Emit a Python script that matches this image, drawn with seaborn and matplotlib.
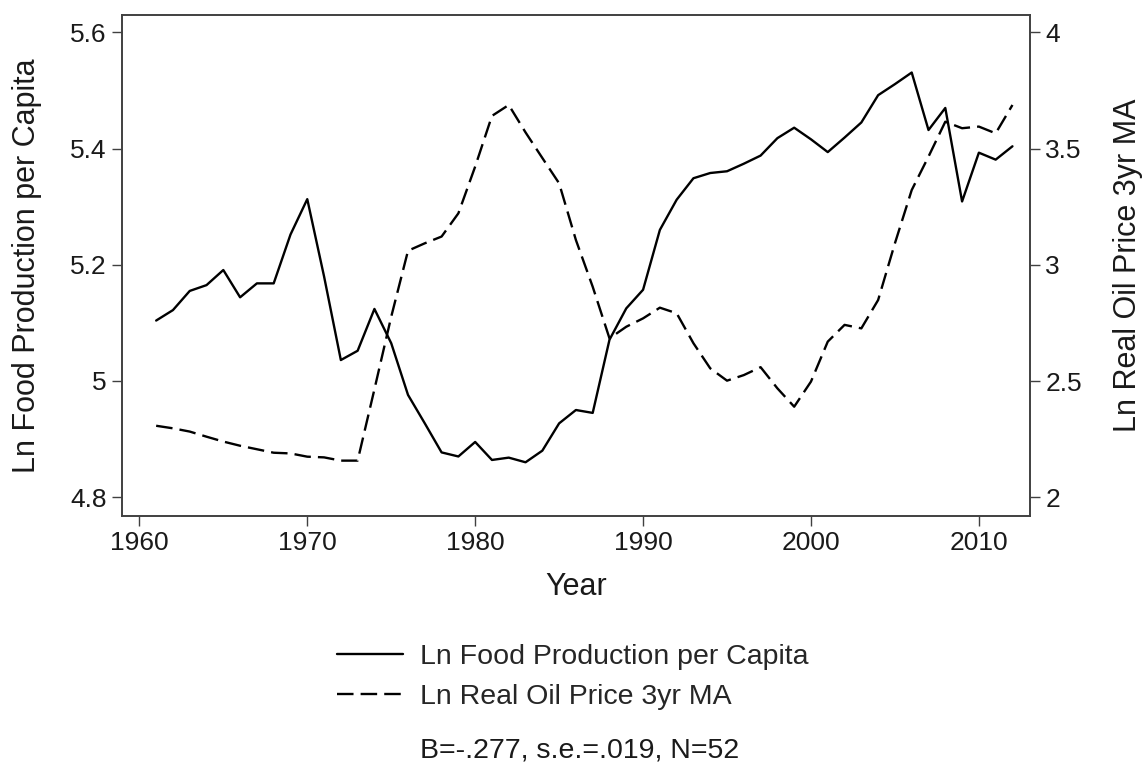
import matplotlib
matplotlib.use('Agg')
import matplotlib.pyplot as plt
import seaborn as sns
import pandas as pd

# values
years = list(range(1961, 2013))
food = [5.104, 5.122, 5.155, 5.165, 5.191, 5.144, 5.168, 5.168, 5.252, 5.313,
        5.180, 5.036, 5.052, 5.124, 5.065, 4.976, 4.927, 4.877, 4.870, 4.895,
        4.864, 4.868, 4.860, 4.880, 4.927, 4.950, 4.945, 5.071, 5.125, 5.157,
        5.260, 5.312, 5.349, 5.358, 5.361, 5.374, 5.388, 5.418, 5.436, 5.416,
        5.394, 5.419, 5.445, 5.492, 5.511, 5.531, 5.432, 5.470, 5.309, 5.393,
        5.381, 5.404]
oil = [2.308, 2.297, 2.283, 2.261, 2.240, 2.222, 2.207, 2.192, 2.189, 2.175,
       2.172, 2.158, 2.158, 2.465, 2.777, 3.061, 3.093, 3.122, 3.222, 3.423,
       3.641, 3.688, 3.570, 3.460, 3.351, 3.107, 2.906, 2.684, 2.734, 2.770,
       2.816, 2.792, 2.663, 2.555, 2.502, 2.526, 2.560, 2.469, 2.390, 2.498,
       2.670, 2.742, 2.727, 2.849, 3.093, 3.322, 3.466, 3.616, 3.588, 3.595,
       3.566, 3.688]
x_ticks = [1960, 1970, 1980, 1990, 2000, 2010]
left_ticks = [4.8, 5.0, 5.2, 5.4, 5.6]
left_labels = ['4.8', '5', '5.2', '5.4', '5.6']
right_ticks = [2, 2.5, 3, 3.5, 4]
right_labels = ['2', '2.5', '3', '3.5', '4']

df = pd.DataFrame({'year': years, 'food': food, 'oil': oil})

sns.set_style('ticks')
plt.rcParams['font.family'] = ['Liberation Sans', 'DejaVu Sans']

spine_col = '#404040'
fig = plt.figure(figsize=(11.42, 7.62), dpi=100)
ax = fig.add_axes([0.1066, 0.3232, 0.7954, 0.6571])
ax2 = ax.twinx()

sns.lineplot(data=df, x='year', y='food', ax=ax, color='black', lw=1.7,
             label='Ln Food Production per Capita', legend=False)
sns.lineplot(data=df, x='year', y='oil', ax=ax2, color='black', lw=1.7,
             linestyle=(0, (7, 3)), label='Ln Real Oil Price 3yr MA', legend=False)

ax.set_xlim(1958.95, 2013.05)
ax.set_ylim(4.768, 5.630)
ax2.set_ylim(1.921, 4.075)
ax.set_xticks(x_ticks)
ax.set_yticks(left_ticks)
ax.set_yticklabels(left_labels)
ax2.set_yticks(right_ticks)
ax2.set_yticklabels(right_labels)

for a in (ax, ax2):
    for s in a.spines.values():
        s.set_visible(True)
        s.set_color(spine_col)
        s.set_linewidth(1.2)
    a.tick_params(length=7, width=1.0, color=spine_col, labelsize=19, pad=4,
                  labelcolor='#1a1a1a')

ax.set_xlabel('Year', fontsize=22, color='#1a1a1a')
ax.set_ylabel('Ln Food Production per Capita', fontsize=22, color='#1a1a1a')
ax2.set_ylabel('Ln Real Oil Price 3yr MA', fontsize=22, color='#1a1a1a')
ax.xaxis.set_label_coords(0.5, -0.112)
ax.yaxis.set_label_coords(-0.088, 0.5)
ax2.yaxis.set_label_coords(1.0915, 0.5)

handles = [ax.get_lines()[0], ax2.get_lines()[0]]
fig.legend(handles=handles, labels=[h.get_label() for h in handles],
           loc='center left', bbox_to_anchor=(0.2948, 0.1113), frameon=False,
           fontsize=20.5, borderpad=0, borderaxespad=0, handlelength=2.34,
           handletextpad=0.59, labelspacing=0.5)

fig.text(0.3678, 0.006, 'B=-.277, s.e.=.019, N=52', fontsize=20.5,
         color='#1a1a1a', va='baseline', ha='left')

fig.savefig('out.png', dpi=100)
